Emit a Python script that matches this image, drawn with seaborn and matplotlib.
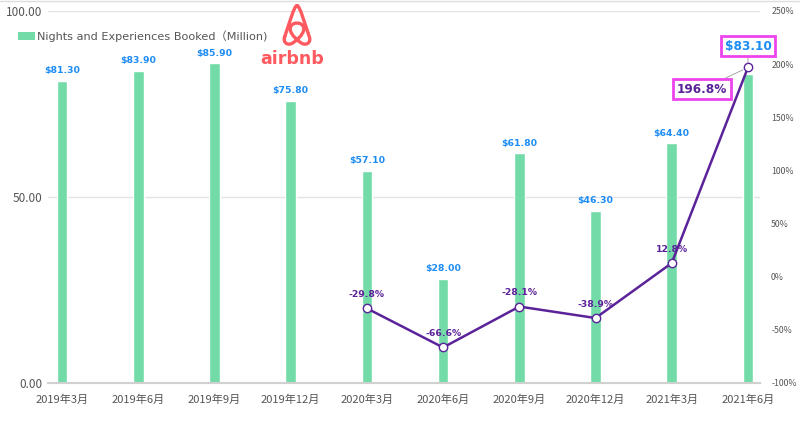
import numpy as np
import pandas as pd
import matplotlib
matplotlib.use('Agg')
import matplotlib.pyplot as plt
import seaborn as sns
from matplotlib.path import Path
from matplotlib.patches import PathPatch, Patch
from matplotlib.lines import Line2D

# ---- data ----
categories = ['2019年3月', '2019年6月', '2019年9月', '2019年12月', '2020年3月',
              '2020年6月', '2020年9月', '2020年12月', '2021年3月', '2021年6月']
booked = [81.3, 83.9, 85.9, 75.8, 57.1, 28.0, 61.8, 46.3, 64.4, 83.1]
growth_start = 4
growth = [-29.8, -66.6, -28.1, -38.9, 12.8, 196.8]
left_ticks = [0, 50, 100]
right_ticks = [-100, -50, 0, 50, 100, 150, 200, 250]
legend_label = 'Nights and Experiences Booked（Million)'

GREEN = '#72dba8'
PURPLE = '#5b2399'
BLUE = '#1e8cf5'
MAGENTA = '#ee44ee'
RED = '#ff5a5f'
TICK = '#555555'

sns.set_theme(style='white')
plt.rcParams['font.family'] = ['DejaVu Sans', 'Noto Sans CJK SC']

fig = plt.figure(figsize=(8, 4.38), dpi=100)
ax = fig.add_axes([0.06, 0.1256, 0.89, 0.8494])

df = pd.DataFrame({'month': categories, 'booked': booked})
sns.barplot(data=df, x='month', y='booked', color=GREEN, saturation=1,
            width=0.14, ax=ax, zorder=2)
ax.set_xlim(-0.184, 9.158)
ax.set_ylim(0, 100)
ax.set_xlabel('')
ax.set_ylabel('')
ax.set_yticks(left_ticks)
ax.set_yticklabels([f'{v:.2f}' for v in left_ticks],
                   family=['Noto Sans CJK SC'], fontsize=8.5, color=TICK)
ax.set_xticks(range(len(categories)))
ax.set_xticklabels(categories, family=['Noto Sans CJK SC'], fontsize=8, color=TICK)
ax.tick_params(axis='x', length=0, pad=8)
ax.tick_params(axis='y', length=0, pad=4)
ax.set_xticks(np.arange(len(categories) - 1) + 0.83, minor=True)
ax.tick_params(axis='x', which='minor', length=4, color='#cccccc', width=1)
ax.yaxis.grid(True, color='#e3e3e3', linewidth=1)
ax.set_axisbelow(True)
for s in ['top', 'left', 'right']:
    ax.spines[s].set_visible(False)
ax.spines['bottom'].set_color('#d0d0d0')
ax.spines['bottom'].set_linewidth(1.5)

for i, v in enumerate(booked[:-1]):
    ax.annotate(f'${v:.2f}', (i, v), xytext=(0, 4), textcoords='offset points',
                ha='center', va='bottom', color=BLUE, fontweight='bold', fontsize=6.7)
last = len(booked) - 1
ax.annotate(f'${booked[last]:.2f}', (last, booked[last]), xytext=(0, 20),
            textcoords='offset points', ha='center', va='center', color=BLUE,
            fontweight='bold', fontsize=8.7, zorder=6,
            bbox=dict(boxstyle='square,pad=0.3', fc='white', ec=MAGENTA, lw=2),
            arrowprops=dict(arrowstyle='-', color='#999999', lw=0.6, shrinkA=0, shrinkB=4))

# ---- line on secondary axis ----
ax2 = ax.twinx()
gdf = pd.DataFrame({'pos': np.arange(growth_start, growth_start + len(growth)),
                    'growth': growth})
sns.lineplot(data=gdf, x='pos', y='growth', ax=ax2, color=PURPLE, linewidth=1.8,
             marker='o', markersize=6, markerfacecolor='white',
             markeredgecolor=PURPLE, markeredgewidth=1, zorder=4)
ax2.set_xlim(-0.184, 9.158)
ax2.set_ylim(-100, 250)
ax2.set_ylabel('')
ax2.set_xlabel('')
ax2.set_yticks(right_ticks)
ax2.set_yticklabels([f'{v}%' for v in right_ticks],
                    family=['Noto Sans CJK SC'], fontsize=6.3, color=TICK)
ax2.tick_params(axis='y', length=0, pad=8)
ax2.grid(False)
for s in ax2.spines.values():
    s.set_visible(False)

for p, g in zip(gdf['pos'][:-1], growth[:-1]):
    ax2.annotate(f'{g:.1f}%', (p, g), xytext=(0, 10), textcoords='offset points',
                 ha='center', va='center', color=PURPLE, fontweight='bold', fontsize=6.7)
ax2.annotate(f'{growth[-1]:.1f}%', (gdf['pos'].iloc[-1], growth[-1]), xytext=(-33, -15.5),
             textcoords='offset points', ha='center', va='center', color=PURPLE,
             fontweight='bold', fontsize=8.7,
             bbox=dict(boxstyle='square,pad=0.3', fc='white', ec=MAGENTA, lw=2),
             arrowprops=dict(arrowstyle='-', color='#999999', lw=0.6, shrinkA=0, shrinkB=4))

# ---- legend ----
handles = [Patch(facecolor=GREEN, edgecolor='none')]
leg = fig.legend(handles, [legend_label], loc='upper left',
                 bbox_to_anchor=(18 / 800, (438 - 30) / 438),
                 frameon=False, borderpad=0, borderaxespad=0, handlelength=1.5,
                 handleheight=0.7, handletextpad=0.2,
                 prop={'size': 8.1, 'family': ['DejaVu Sans', 'Noto Sans CJK SC']})
for t in leg.get_texts():
    t.set_color('#555555')

# ---- airbnb logo ----
lax = fig.add_axes([282 / 800, (438 - 46) / 438, 30 / 800, 42 / 438])
lax.set_xlim(-1.1, 1.1)
lax.set_ylim(-0.1, 2.85)
lax.axis('off')
verts = [(-0.9, 0.55),
         (-1.05, 0.2), (-0.75, -0.05), (-0.45, 0.05),
         (-0.15, 0.15), (0.5, 0.7), (0.5, 1.1),
         (0.5, 1.65), (-0.5, 1.65), (-0.5, 1.1),
         (-0.5, 0.7), (0.15, 0.15), (0.45, 0.05),
         (0.75, -0.05), (1.05, 0.2), (0.9, 0.55),
         (0.6, 1.4), (0.2, 2.75), (0.0, 2.75),
         (-0.2, 2.75), (-0.6, 1.4), (-0.9, 0.55)]
codes = [Path.MOVETO] + [Path.CURVE4] * (len(verts) - 1)
lax.add_patch(PathPatch(Path(verts, codes), fc='none', ec=RED, lw=2.4,
                        capstyle='round', joinstyle='round'))
fig.text(292 / 800, (438 - 59) / 438, 'airbnb', color=RED, fontsize=12.5,
         fontweight='bold', ha='center', va='center', family=['DejaVu Sans'])

fig.add_artist(Line2D([0, 1], [0.998, 0.998], transform=fig.transFigure,
                      color='#dddddd', lw=1))

fig.savefig('out.png', dpi=100)
